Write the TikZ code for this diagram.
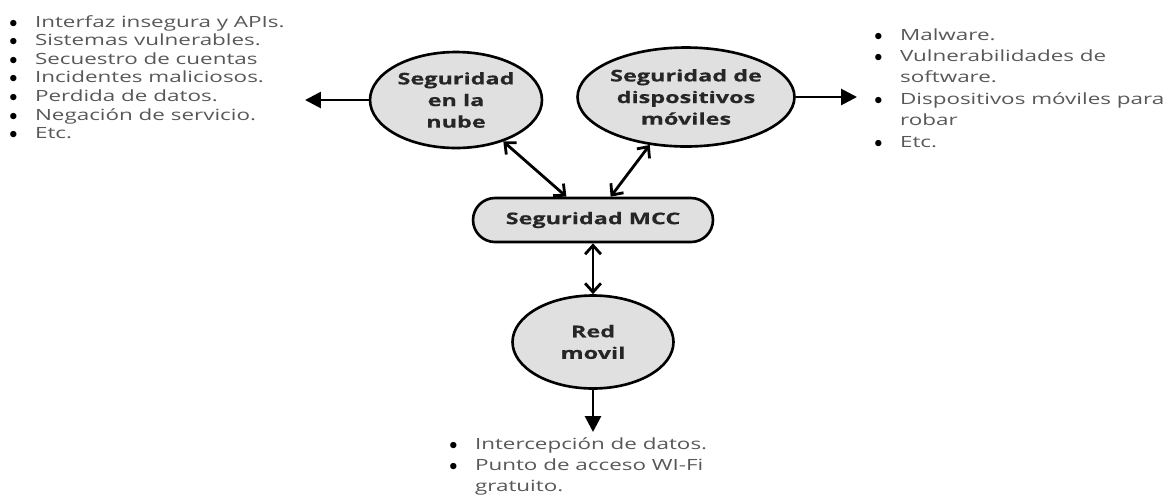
\documentclass[tikz,border=0pt]{standalone}
\usepackage{fontspec}
\setmainfont{Open Sans}[FakeStretch=1.45,BoldFeatures={FakeBold=0.3}]
\usetikzlibrary{shapes.geometric}
\usetikzlibrary{arrows.meta}
\definecolor{relleno}{RGB}{224,224,224}
\definecolor{texto}{RGB}{88,88,88}
\tikzstyle{nodo}=[draw,line width=1.5pt,fill=relleno,ellipse,inner sep=0pt,align=center,font=\fontsize{9.2}{12.3}\selectfont\bfseries,text=black!85]
\tikzstyle{flecha}=[line width=1.6pt,-{Triangle[length=9pt,width=9pt]}]
\tikzstyle{dobleflecha}=[line width=1.6pt,{Straight Barb[length=5pt,width=9pt]}-{Straight Barb[length=5pt,width=9pt]}]
\tikzstyle{lista}=[anchor=base west,inner sep=0pt,text=texto]
\newcommand{\punto}{\textcolor{black}{$\bullet$}}

\begin{document}
\begin{tikzpicture}[x=0.02cm,y=-0.02cm]
\useasboundingbox (0,0) rectangle (1175,498);

% nodos
\node[nodo,minimum width=3.44cm,minimum height=1.92cm] (nube) at (456,100) {Seguridad\\en la\\nube};
\node[nodo,minimum width=4.34cm,minimum height=1.98cm] (disp) at (686,97) {Seguridad de\\dispositivos\\móviles};
\node[nodo,rectangle,rounded corners=0.44cm,minimum width=4.8cm,minimum height=0.88cm] (mcc) at (593,220) {Seguridad MCC};
\node[nodo,minimum width=3.22cm,minimum height=1.86cm] (red) at (593,342) {Red\\movil};

% listas
\node[lista,font=\fontsize{8.8}{10.6}\selectfont] (nubelista) at (9,27) {\begin{tabular}[t]{@{}l@{\hspace{10pt}}l@{}}
\punto & Interfaz insegura y APIs.\\
\punto & Sistemas vulnerables.\\
\punto & Secuestro de cuentas\\
\punto & Incidentes maliciosos.\\
\punto & Perdida de datos.\\
\punto & Negación de servicio.\\
\punto & Etc.
\end{tabular}};
\node[lista,font=\fontsize{8.8}{12.2}\selectfont] (displista) at (874,40) {\begin{tabular}[t]{@{}l@{\hspace{10pt}}l@{}}
\punto & Malware.\\
\punto & Vulnerabilidades de\\
 & software.\\
\punto & Dispositivos móviles para\\
 & robar\\
\punto & Etc.
\end{tabular}};
\node[lista,font=\fontsize{8.8}{12.2}\selectfont] (redlista) at (449,449) {\begin{tabular}[t]{@{}l@{\hspace{10pt}}l@{}}
\punto & Intercepción de datos.\\
\punto & Punto de acceso WI-Fi\\
 & gratuito.
\end{tabular}};

% flechas
\coordinate (nubefin) at (305,100);
\coordinate (dispfin) at (857,97);
\coordinate (redfin) at (593,432);
\draw[flecha] (nube) -- (nubefin);
\draw[flecha] (disp) -- (dispfin);
\draw[flecha] (red) -- (redfin);
\draw[dobleflecha] (nube) -- (mcc);
\draw[dobleflecha] (disp) -- (mcc);
\draw[dobleflecha] (mcc) -- (red);
\end{tikzpicture}
\end{document}
